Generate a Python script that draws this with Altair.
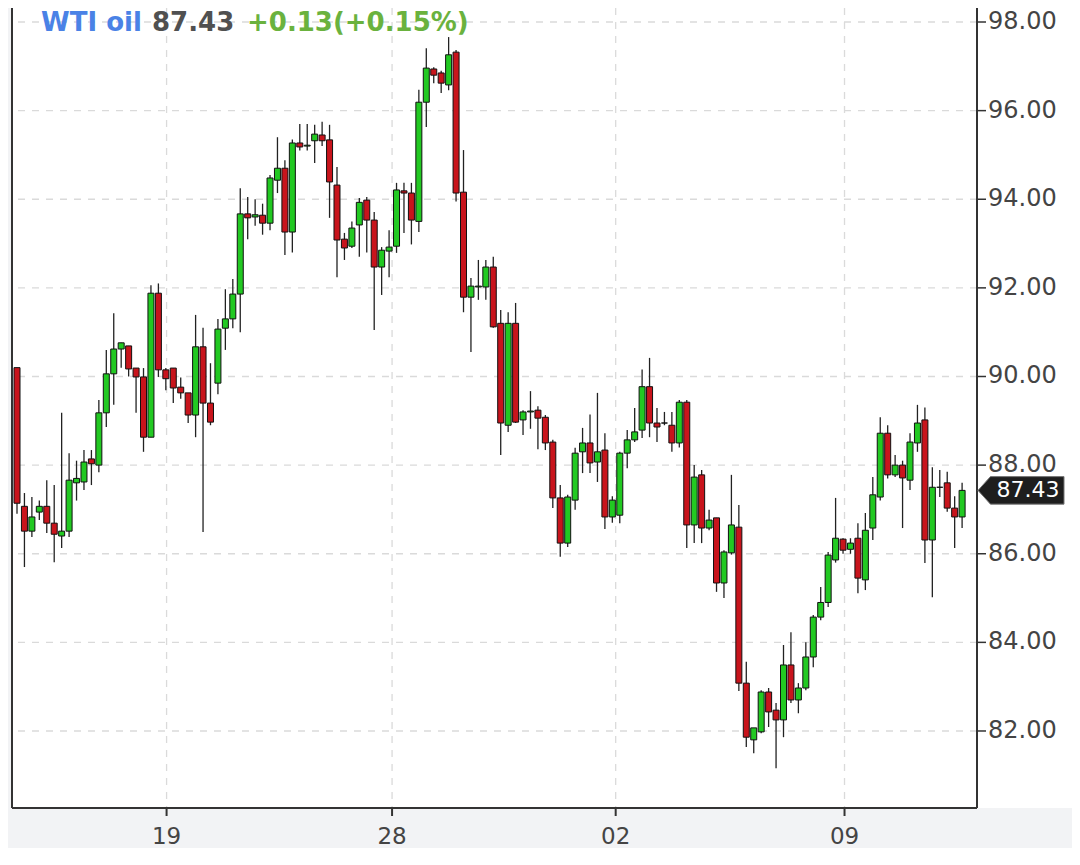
import altair as alt
import pandas as pd

# ---- data ----
opens = [90.2, 87.07, 86.51, 86.94, 87.07, 86.69, 86.40, 86.51, 87.6, 87.62,
         88.14, 88.0, 89.18, 90.06, 90.62, 90.69, 90.19, 89.99, 88.63, 91.88,
         90.15, 90.19, 89.76, 89.63, 89.13, 90.67, 89.4, 89.85, 91.09, 91.3,
         91.86, 93.67, 93.6, 93.64, 93.46, 94.43, 94.7, 93.26, 95.27, 95.2,
         95.32, 95.45, 95.34, 94.32, 93.1, 92.94, 93.42, 93.98, 93.53, 92.47,
         92.83, 92.94, 94.19, 94.14, 93.5, 96.19, 96.94, 96.85, 96.58, 97.32,
         94.16, 91.79, 92.02, 92.02, 92.47, 91.2, 88.9, 91.2, 89.02, 89.2,
         89.24, 89.08, 88.52, 87.26, 86.24, 87.21, 88.3, 88.5, 88.07, 88.34,
         86.83, 86.87, 88.27, 88.57, 88.79, 89.77, 88.95, 88.95, 88.9, 88.5,
         89.42, 86.65, 87.78, 86.58, 86.81, 85.34, 86.02, 86.6, 83.08, 81.8,
         81.98, 82.88, 82.47, 82.25, 83.49, 82.7, 82.97, 83.67, 84.57, 84.9,
         85.86, 86.33, 86.1, 86.35, 85.41, 86.58, 87.28, 88.72, 87.78, 88.0,
         87.66, 88.5, 89.02, 86.31, 87.5, 87.6, 87.03, 86.83]
highs = [90.2, 87.37, 87.28, 87.2, 87.66, 87.55, 89.18, 88.27, 88.1, 88.34,
         88.34, 89.47, 90.6, 91.43, 90.76, 90.69, 90.19, 90.19, 92.06, 92.1,
         90.19, 90.19, 89.98, 89.63, 91.39, 91.1, 90.3, 91.3, 91.97, 92.2,
         94.25, 94.05, 94.0, 93.9, 94.55, 95.4, 94.88, 95.35, 95.7, 95.7,
         95.68, 95.75, 95.68, 94.73, 93.24, 93.5, 94.03, 94.05, 93.71, 92.92,
         93.3, 94.37, 94.37, 94.37, 96.47, 97.41, 96.98, 96.9, 97.66, 97.37,
         95.11, 92.22, 92.63, 92.63, 92.7, 91.5, 91.45, 91.66, 89.24, 89.67,
         89.33, 89.13, 88.57, 87.55, 87.33, 88.39, 88.84, 89.14, 89.63, 88.72,
         87.3, 88.3, 88.79, 89.29, 90.16, 90.42, 89.29, 89.2, 89.2, 89.47,
         89.47, 88.0, 87.89, 86.99, 86.81, 86.08, 87.78, 87.1, 83.56, 82.07,
         82.92, 82.97, 82.63, 83.94, 84.23, 83.08, 84.0, 84.62, 85.25, 86.04,
         87.26, 86.35, 86.35, 86.69, 86.92, 87.73, 89.08, 88.9, 88.23, 88.1,
         88.72, 89.36, 89.3, 87.95, 87.89, 87.85, 87.3, 87.6]
lows = [86.9, 85.7, 86.38, 86.76, 86.47, 85.81, 86.13, 86.38, 87.2, 87.44,
        87.55, 87.84, 88.86, 89.36, 90.2, 90.0, 89.18, 88.3, 88.63, 89.99,
        89.69, 89.4, 89.5, 88.95, 88.63, 86.49, 88.9, 89.6, 90.6, 91.09,
        91.0, 93.1, 93.4, 93.2, 93.3, 94.14, 92.74, 92.8, 95.1, 95.1,
        94.82, 95.2, 93.58, 92.24, 92.63, 92.9, 92.7, 92.8, 91.05, 91.84,
        92.24, 92.79, 93.24, 92.98, 93.26, 95.63, 96.62, 96.4, 96.46, 93.95,
        91.45, 90.55, 91.73, 91.73, 91.1, 88.23, 88.75, 88.95, 88.68, 88.82,
        88.36, 88.34, 87.03, 85.93, 86.15, 86.99, 87.82, 87.82, 87.62, 86.56,
        86.7, 86.69, 87.93, 88.52, 88.61, 88.63, 88.52, 88.9, 88.3, 88.4,
        86.13, 86.24, 86.24, 86.53, 85.14, 85.0, 85.98, 82.9, 81.64, 81.5,
        81.95, 82.09, 81.16, 81.86, 82.63, 82.4, 82.92, 83.44, 84.5, 84.8,
        85.8, 86.0, 86.0, 85.11, 85.18, 86.31, 87.2, 87.7, 87.73, 86.58,
        87.44, 88.3, 85.79, 85.02, 87.28, 86.95, 86.13, 86.58]
closes = [87.14, 86.51, 86.83, 87.07, 86.69, 86.44, 86.51, 87.66, 87.7, 88.07,
          88.03, 89.18, 90.06, 90.62, 90.76, 90.17, 89.99, 88.63, 91.88, 90.15,
          89.95, 89.74, 89.63, 89.13, 90.67, 89.4, 88.97, 91.07, 91.3, 91.86,
          93.67, 93.58, 93.65, 93.46, 94.48, 94.7, 93.26, 95.27, 95.18, 95.22,
          95.47, 95.32, 94.39, 93.08, 92.9, 93.35, 93.93, 93.53, 92.47, 92.85,
          92.92, 94.21, 94.14, 93.53, 96.19, 96.96, 96.8, 96.62, 97.26, 94.14,
          91.79, 92.04, 92.04, 92.47, 91.12, 88.95, 91.2, 88.97, 89.2, 89.22,
          89.06, 88.5, 87.26, 86.24, 87.28, 88.27, 88.5, 88.05, 88.3, 86.83,
          87.21, 88.27, 88.57, 88.75, 89.77, 88.95, 88.86, 88.95, 88.5, 89.42,
          86.65, 87.73, 86.58, 86.76, 85.34, 86.04, 86.65, 83.08, 81.86, 82.07,
          82.88, 82.43, 82.25, 83.49, 82.7, 82.97, 83.67, 84.57, 84.9, 85.97,
          86.35, 86.08, 86.24, 85.45, 86.53, 87.33, 88.72, 87.78, 88.0, 87.71,
          88.52, 88.95, 86.31, 87.5, 87.5, 87.03, 86.83, 87.43]

y_ticks = [82, 84, 86, 88, 90, 92, 94, 96, 98]
x_tick_pos = [20.1, 50.4, 80.45, 111.2]
x_tick_labels = ["19", "28", "02", "09"]
last_price = [87.43]
last_label = ["87.43"]
header_texts = ["WTI oil", "87.43", "+0.13(+0.15%)"]

# ---- styling ----
W, H = 965, 800
GREEN = "#22c922"
RED = "#c8141c"
AXIS = "#333333"
LABEL = "#444444"
FONT = "DejaVu Sans"
header_colors = ["#4a82e6", "#505050", "#6ab23e"]
header_x = [29, 140, 235]

df = pd.DataFrame({"i": list(range(len(opens))), "open": opens, "high": highs,
                   "low": lows, "close": closes})
ydf = pd.DataFrame({"v": y_ticks})
xdf = pd.DataFrame({"p": x_tick_pos, "lab": x_tick_labels})
one = pd.DataFrame({"a": [0]})

xs = alt.Scale(domain=[0, 128.33], nice=False, zero=False)
ys = alt.Scale(domain=[80.262, 98.316], nice=False, zero=False)

right_bg = alt.Chart(one).mark_rect(fill="white", clip=False).encode(
    x=alt.value(W), x2=alt.value(W + 95), y=alt.value(0), y2=alt.value(H))

hgrid = alt.Chart(ydf).mark_rule(
    color="#dadada", strokeWidth=1.3, strokeDash=[7, 7]).encode(
    y=alt.Y("v:Q", scale=ys, axis=None))

vgrid = alt.Chart(xdf).mark_rule(
    color="#dadada", strokeWidth=1.3, strokeDash=[7, 7]).encode(
    x=alt.X("p:Q", scale=xs, axis=None))

wicks = alt.Chart(df).mark_rule(color="#222", strokeWidth=1.3, clip=True).encode(
    x=alt.X("i:Q", scale=xs, axis=None),
    y=alt.Y("low:Q", scale=ys, axis=None),
    y2="high:Q")

bodies = alt.Chart(df).mark_bar(size=6, stroke="#111", strokeWidth=1, clip=True).encode(
    x=alt.X("i:Q", scale=xs, axis=None),
    y=alt.Y("open:Q", scale=ys, axis=None),
    y2="close:Q",
    fill=alt.condition("datum.close >= datum.open", alt.value(GREEN), alt.value(RED)))

# frame / axis lines
left_border = alt.Chart(one).mark_rule(color=AXIS, strokeWidth=2, clip=False).encode(
    x=alt.value(0), y=alt.value(0), y2=alt.value(H))
right_border = alt.Chart(one).mark_rule(color=AXIS, strokeWidth=2, clip=False).encode(
    x=alt.value(W), y=alt.value(0), y2=alt.value(H))
bottom_border = alt.Chart(one).mark_rule(color=AXIS, strokeWidth=2, clip=False).encode(
    x=alt.value(0), x2=alt.value(W), y=alt.value(H))

y_tick_marks = alt.Chart(ydf).mark_rule(color=AXIS, strokeWidth=1.5, clip=False).encode(
    y=alt.Y("v:Q", scale=ys, axis=None), x=alt.value(W), x2=alt.value(W + 9))
y_labels = alt.Chart(ydf).mark_text(
    align="left", baseline="middle", font=FONT, fontSize=24, color=LABEL, clip=False).encode(
    y=alt.Y("v:Q", scale=ys, axis=None), x=alt.value(W + 11),
    text=alt.Text("v:Q", format=".2f"))

x_tick_marks = alt.Chart(xdf).mark_rule(color=AXIS, strokeWidth=2, clip=False).encode(
    x=alt.X("p:Q", scale=xs, axis=None), y=alt.value(H), y2=alt.value(H + 8))
x_labels = alt.Chart(xdf).mark_text(
    align="center", baseline="middle", font=FONT, fontSize=23, color=LABEL, clip=False).encode(
    x=alt.X("p:Q", scale=xs, axis=None), y=alt.value(H + 29), text="lab:N")

headers = []
for t, c, xp in zip(header_texts, header_colors, header_x):
    headers.append(alt.Chart(one).mark_text(
        align="left", baseline="alphabetic", font=FONT, fontWeight="bold",
        fontSize=26, color=c).encode(
        x=alt.value(xp), y=alt.value(23), text=alt.value(t)))

tag_df = pd.DataFrame({"p": last_price, "lab": last_label})
tag_path = "M-1,0L-0.71,-0.32L1,-0.32L1,0.32L-0.71,0.32Z"
tag = alt.Chart(tag_df).mark_point(
    shape=tag_path, size=86 * 86, filled=True, fill="#1e1e1e", stroke="#777",
    strokeWidth=1, opacity=1, clip=False).encode(
    x=alt.value(1009), y=alt.Y("p:Q", scale=ys, axis=None))
tag_text = alt.Chart(tag_df).mark_text(
    color="white", fontSize=22, font=FONT, align="center", baseline="middle",
    clip=False).encode(
    x=alt.value(1016), y=alt.Y("p:Q", scale=ys, axis=None), text="lab:N")

chart = alt.layer(right_bg, hgrid, vgrid, wicks, bodies,
                  left_border, right_border, bottom_border,
                  y_tick_marks, y_labels, x_tick_marks, x_labels,
                  *headers, tag, tag_text).properties(
    width=W, height=H,
    padding={"left": 4, "top": 0, "right": 95, "bottom": 40},
    autosize=alt.AutoSizeParams(type="none"),
    background="#f2f3f5",
).configure_view(fill="white", stroke=None)

chart.save("out.html", embed_options={"renderer": "svg", "actions": False})
